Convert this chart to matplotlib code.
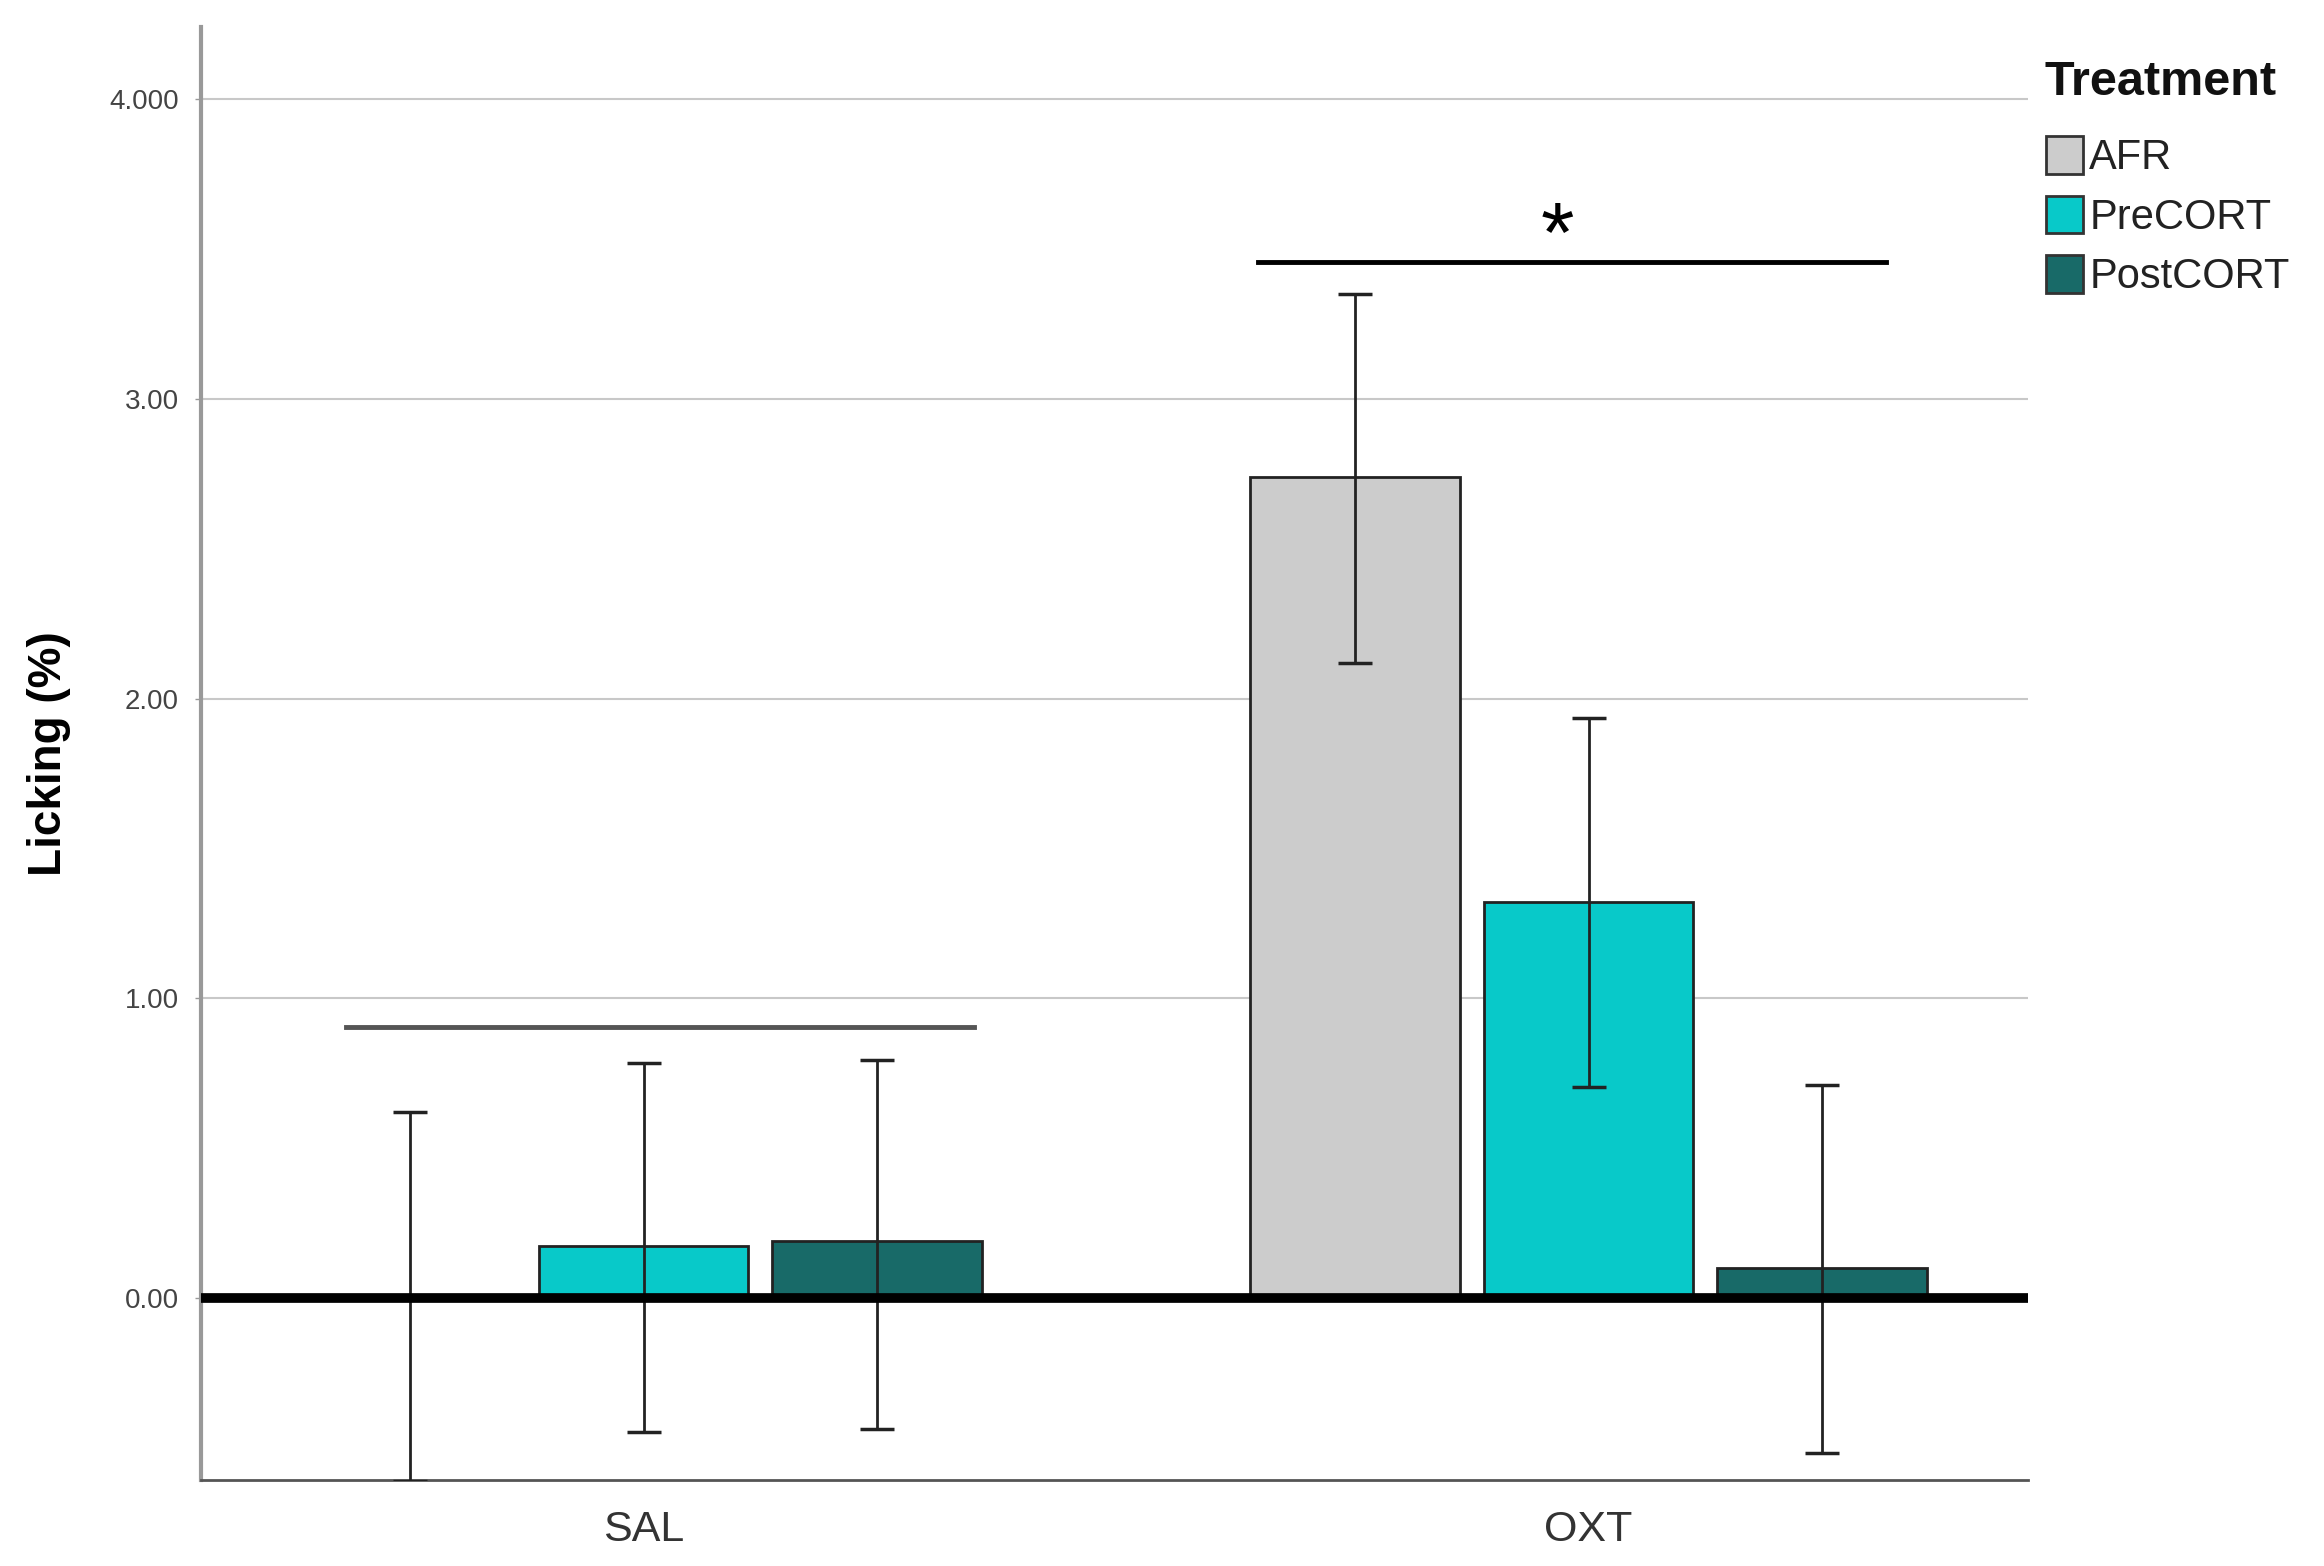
import numpy as np
import matplotlib
matplotlib.use("Agg")
import matplotlib.pyplot as plt
from matplotlib.patches import Patch

plt.rcParams["font.family"] = ["Liberation Sans", "DejaVu Sans"]

groups = ["SAL", "OXT"]
treatments = ["AFR", "PreCORT", "PostCORT"]
colors = ["#cccccc", "#08c9c9", "#186a68"]

# means and error bar ends, per treatment, per group (SAL, OXT)
means = {
    "AFR": [0.0, 2.74],
    "PreCORT": [0.175, 1.32],
    "PostCORT": [0.19, 0.10],
}
err_hi = {
    "AFR": [0.62, 3.35],
    "PreCORT": [0.785, 1.935],
    "PostCORT": [0.795, 0.71],
}
err_lo = {
    "AFR": [-0.61, 2.12],
    "PreCORT": [-0.445, 0.705],
    "PostCORT": [-0.435, -0.515],
}

yticks = [0, 1, 2, 3, 4]
ytick_labels = ["0.00", "1.00", "2.00", "3.00", "4.000"]

# significance bars: (x start, x end, y)
sig_sal = (-0.315, 0.35, 0.905)
sig_oxt = (0.65, 1.315, 3.455)

fig = plt.figure(figsize=(23.24, 15.66), dpi=100)
ax = fig.add_axes([0.0866, 0.055, 0.786, 0.928])

x = np.arange(len(groups))
step = 0.247
width = 0.222

for i, t in enumerate(treatments):
    pos = x + (i - 1) * step
    m = np.array(means[t])
    hi = np.array(err_hi[t])
    lo = np.array(err_lo[t])
    ax.bar(pos, m, width=width, color=colors[i], edgecolor="#222222",
           linewidth=2, zorder=3)
    ax.errorbar(pos, m, yerr=[m - lo, hi - m], fmt="none", ecolor="#222222",
                elinewidth=2, capsize=12, capthick=2.5, zorder=4)

ax.axhline(0, color="black", linewidth=7, zorder=5)

ax.plot(sig_sal[:2], [sig_sal[2]] * 2, color="#555555", linewidth=3.5, zorder=4)
ax.plot(sig_oxt[:2], [sig_oxt[2]] * 2, color="black", linewidth=3.5, zorder=4)
ax.text(np.mean(sig_oxt[:2]) - 0.015, sig_oxt[2] - 0.06, "*", ha="center",
        va="bottom", fontsize=62)

ax.set_xlim(-0.468, 1.465)
ax.set_ylim(-0.605, 4.24)
ax.set_xticks(x)
ax.set_xticklabels(groups, fontsize=31, color="#333333")
ax.set_yticks(yticks)
ax.set_yticklabels(ytick_labels, fontsize=20, color="#444444")
ax.tick_params(axis="x", length=0, pad=22)
ax.tick_params(axis="y", length=4, width=1, color="#999999", pad=12)

ax.grid(axis="y", color="#c8c8c8", linewidth=1.5, zorder=0)
ax.set_axisbelow(True)

for s in ["top", "right"]:
    ax.spines[s].set_visible(False)
ax.spines["left"].set_color("#999999")
ax.spines["left"].set_linewidth(3)
ax.spines["bottom"].set_color("#555555")
ax.spines["bottom"].set_linewidth(2)

ax.set_ylabel("Licking (%)", fontsize=33, fontweight="bold", labelpad=28)

fig.text(0.8797, 0.947, "Treatment", fontsize=35, fontweight="bold",
         color="#111111", ha="left", va="center")
handles = [Patch(facecolor=c, edgecolor="#333333", linewidth=2) for c in colors]
leg = fig.legend(handles, treatments, loc="upper left",
                 bbox_to_anchor=(0.873, 0.9235), frameon=False,
                 handlelength=0.9, handleheight=1.0, handletextpad=0.15,
                 labelspacing=0.42, borderaxespad=0,
                 prop={"size": 30})
for txt in leg.get_texts():
    txt.set_color("#222222")

fig.savefig("out.png", dpi=100)
